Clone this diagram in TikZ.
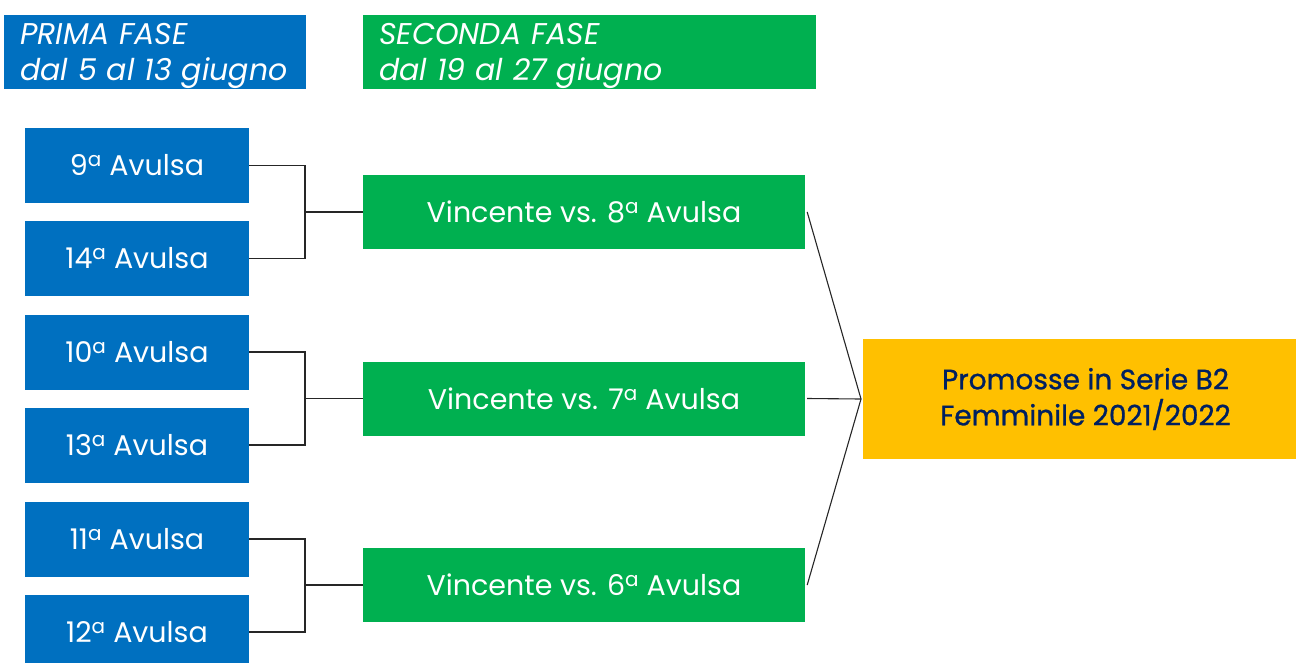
\documentclass[tikz,border=0pt]{standalone}
\usepackage{fontspec}
\setmainfont{Poppins}
\newfontfamily\medfont[FakeBold=0.9]{Poppins}
\begin{document}
\begin{tikzpicture}[x=1pt,y=-1pt,
  box/.style={rectangle,inner sep=0pt,text=white,font=\fontsize{28.5}{32}\selectfont},
  bluebox/.style={box,fill=xblue,minimum width=224pt,minimum height=75pt},
  greenbox/.style={box,fill=xgreen,minimum width=442pt,minimum height=74pt},
  hdr/.style={rectangle,inner sep=0pt,text=white,font=\fontsize{30}{36}\selectfont\itshape,align=left,text width=#1,anchor=north west},
  link/.style={draw=black!85,line width=1.1pt}]
\definecolor{xblue}{HTML}{0070C0}
\definecolor{xgreen}{HTML}{00B050}
\definecolor{xyellow}{HTML}{FFC000}
\definecolor{xnavy}{HTML}{002060}
\useasboundingbox (0,0) rectangle (1296,662);
% headers
\fill[xblue] (4,15) rectangle (306,89);
\fill[xgreen] (363,15) rectangle (816,89);
\node[hdr=285pt] (h1) at (20,23) {PRIMA FASE\\dal 5 al 13 giugno};
\node[hdr=435pt] (h2) at (379,23) {SECONDA FASE\\dal 19 al 27 giugno};
% left boxes
\node[bluebox] (l1) at (137,165.5) {9\textsuperscript{a} Avulsa};
\node[bluebox] (l2) at (137,258.5) {14\textsuperscript{a} Avulsa};
\node[bluebox] (l3) at (137,352) {10\textsuperscript{a} Avulsa};
\node[bluebox] (l4) at (137,445) {13\textsuperscript{a} Avulsa};
\node[bluebox] (l5) at (137,539) {11\textsuperscript{a} Avulsa};
\node[bluebox] (l6) at (137,632) {12\textsuperscript{a} Avulsa};
% middle boxes
\node[greenbox] (m1) at (584,212) {Vincente vs. 8\textsuperscript{a} Avulsa};
\node[greenbox] (m2) at (584,398.5) {Vincente vs. 7\textsuperscript{a} Avulsa};
\node[greenbox] (m3) at (584,585) {Vincente vs. 6\textsuperscript{a} Avulsa};
% final box
\node[rectangle,inner sep=0pt,fill=xyellow,minimum width=445pt,minimum height=120pt,
  text=xnavy,align=center,font=\medfont\fontsize{28}{36}\selectfont] (f) at (1085.5,399)
  {Promosse in Serie B2\\Femminile 2021/2022};
% brackets
\coordinate (j1) at (305,212);
\coordinate (j2) at (305,398.5);
\coordinate (j3) at (305,585);
\draw[link] (l1.east) -| (j1) |- (l2.east);
\draw[link] (l3.east) -| (j2) |- (l4.east);
\draw[link] (l5.east) -| (j3) |- (l6.east);
\draw[link] (j1) -- (m1.west);
\draw[link] (j2) -- (m2.west);
\draw[link] (j3) -- (m3.west);
\coordinate (k) at (861,399);
\draw[link] ([xshift=2pt]m1.east) -- (k);
\draw[link] ([xshift=2pt]m2.east) -- (k);
\draw[link] ([xshift=2pt]m3.east) -- (k);
\end{tikzpicture}
\end{document}
